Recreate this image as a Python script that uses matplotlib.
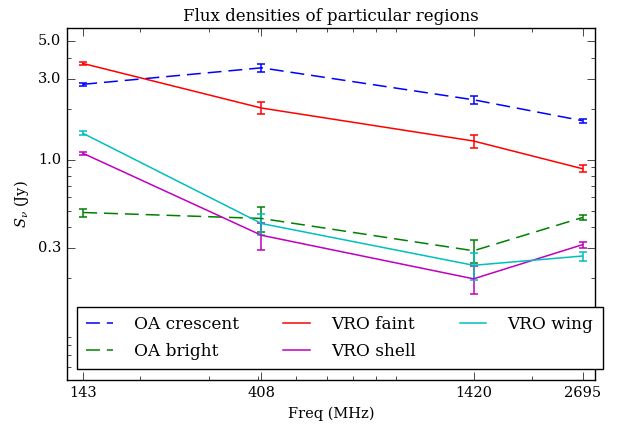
import matplotlib
matplotlib.use('Agg')
import matplotlib.pyplot as plt
from matplotlib.ticker import FixedLocator, FormatStrFormatter, NullFormatter

plt.style.use('classic')
plt.rcParams['font.family'] = 'DejaVu Serif'
plt.rcParams['mathtext.fontset'] = 'dejavuserif'

# frequencies (MHz) and flux densities (Jy) per region
freqs = [143, 408, 1420, 2695]

oa_crescent = [2.79, 3.49, 2.26, 1.70]
oa_crescent_err = [0.065, 0.20, 0.13, 0.05]
oa_bright = [0.488, 0.45, 0.29, 0.456]
oa_bright_err = [0.027, 0.075, 0.045, 0.015]
vro_faint = [3.70, 2.02, 1.29, 0.885]
vro_faint_err = [0.08, 0.16, 0.11, 0.04]
vro_shell = [1.09, 0.358, 0.198, 0.315]
vro_shell_err = [0.025, 0.065, 0.038, 0.013]
vro_wing = [1.43, 0.42, 0.238, 0.27]
vro_wing_err = [0.039, 0.06, 0.042, 0.017]

xticks = [143, 408, 1420, 2695]
yticks = [0.3, 1.0, 3.0, 5.0]

fig = plt.figure(figsize=(6.17, 4.28), dpi=100, facecolor='white')
ax = fig.add_axes([0.1086, 0.1121, 0.8557, 0.8225])

series = [
    (oa_crescent, oa_crescent_err, 'b', True, 'OA crescent'),
    (oa_bright, oa_bright_err, 'g', True, 'OA bright'),
    (vro_faint, vro_faint_err, 'r', False, 'VRO faint'),
    (vro_shell, vro_shell_err, 'm', False, 'VRO shell'),
    (vro_wing, vro_wing_err, 'c', False, 'VRO wing'),
]

handles = []
for vals, errs, col, dashed, lab in series:
    cont = ax.errorbar(freqs, vals, yerr=errs, color=col, lw=1.1,
                       elinewidth=1.1, capsize=3.2, capthick=1.1, label=lab)
    if dashed:
        cont[0].set_dashes((10, 5))
    handles.append(cont[0])

ax.set_xscale('log')
ax.set_yscale('log')
ax.set_xlim(130, 2900)
ax.set_ylim(0.05, 6.0)

ax.xaxis.set_major_locator(FixedLocator(xticks))
ax.xaxis.set_major_formatter(FormatStrFormatter('%d'))
ax.xaxis.set_minor_formatter(NullFormatter())
ax.yaxis.set_major_locator(FixedLocator(yticks))
ax.yaxis.set_major_formatter(FormatStrFormatter('%.1f'))
ax.yaxis.set_minor_formatter(NullFormatter())
ax.tick_params(which='major', length=6, labelsize=10.5)
ax.tick_params(which='minor', length=3)

ax.set_xlabel('Freq (MHz)', fontsize=10.5)
ax.set_ylabel(r'$S_\nu$ (Jy)', fontsize=10.5)
ax.set_title('Flux densities of particular regions', fontsize=12)

# legend runs slightly past the right spine
leg = ax.legend(handles, [s[4] for s in series],
                loc='lower left', bbox_to_anchor=(0.019, 0.031), borderaxespad=0,
                ncol=3, fontsize=12.2, handlelength=1.56, handletextpad=1.26,
                columnspacing=2.6, borderpad=0.55, labelspacing=0.58,
                frameon=True, numpoints=1)

fig.savefig('out.png', dpi=100, facecolor='white')
